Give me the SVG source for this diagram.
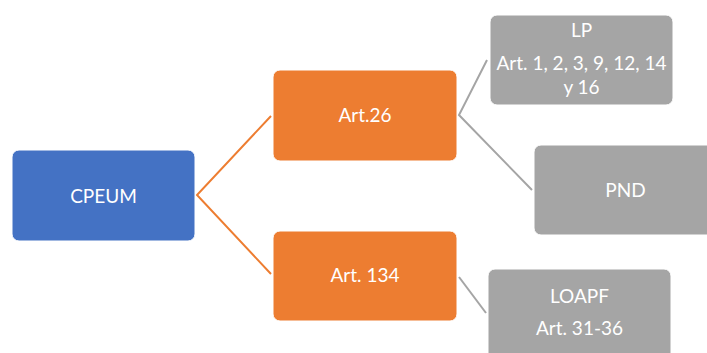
<svg xmlns="http://www.w3.org/2000/svg" width="707" height="353" viewBox="0 0 707 353">
  <style>
    .box { stroke: #ffffff; stroke-width: 1; }
    .blue { fill: #4472C4; }
    .orange { fill: #ED7D31; }
    .gray { fill: #A5A5A5; }
    .lbl { font-family: Lato, "Open Sans", sans-serif; font-size: 19px; fill: #ffffff; text-anchor: middle; }
    .c-orange { stroke: #ED7D31; stroke-width: 2; fill: none; }
    .c-gray { stroke: #A5A5A5; stroke-width: 2; fill: none; }
  </style>
  <rect width="707" height="353" fill="#ffffff"/>

  <g id="connectors">
    <polyline class="c-orange" points="271,116 197,195 271,274"/>
    <polyline class="c-gray" points="487,60 459,115 532,190"/>
    <line class="c-gray" x1="459" y1="277" x2="486" y2="313"/>
  </g>

  <g id="cpeum">
    <rect class="box blue" x="12" y="150" width="183" height="91" rx="7"/>
    <text class="lbl" x="103.5" y="203">CPEUM</text>
  </g>

  <g id="art26">
    <rect class="box orange" x="273" y="70" width="184" height="91" rx="7"/>
    <text class="lbl" x="365" y="122">Art.26</text>
  </g>

  <g id="art134">
    <rect class="box orange" x="273" y="231" width="184" height="90" rx="7"/>
    <text class="lbl" x="365" y="282">Art. 134</text>
  </g>

  <g id="lp">
    <rect class="box gray" x="490" y="15" width="183" height="90" rx="7"/>
    <text class="lbl" x="581.5" y="37">LP</text>
    <text class="lbl" x="581.5" y="70">Art. 1, 2, 3, 9, 12, 14</text>
    <text class="lbl" x="581.5" y="93.5">y 16</text>
  </g>

  <g id="pnd">
    <rect class="box gray" x="534" y="145" width="183" height="90" rx="7"/>
    <text class="lbl" x="625.5" y="197">PND</text>
  </g>

  <g id="loapf">
    <rect class="box gray" x="488" y="269" width="183" height="96" rx="7"/>
    <text class="lbl" x="579.5" y="303">LOAPF</text>
    <text class="lbl" x="579.5" y="335">Art. 31-36</text>
  </g>
</svg>
